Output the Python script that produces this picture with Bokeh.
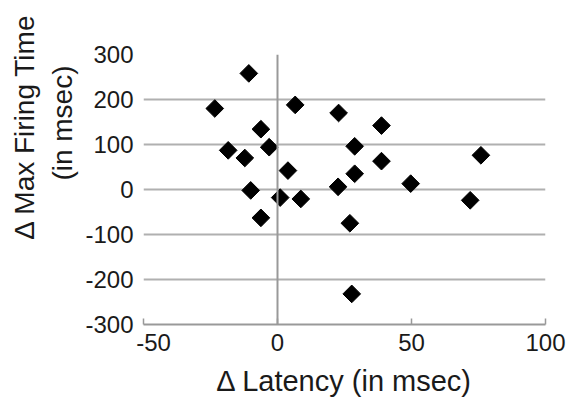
import math
from bokeh.plotting import figure
from bokeh.models import Range1d, FixedTicker, Span, Title
from bokeh.embed import file_html
from bokeh.resources import INLINE

# Data
latency = [-10.7, -23.4, 6.6, 22.8, 38.8, -6.2, -18.4, -3.1, -12.2, 28.8, 38.8,
           75.9, 3.9, 28.8, 49.7, -10.0, 22.6, 1.0, 8.7, 71.9, -6.2, 27.0, 27.7]
firing = [258, 180, 188, 170, 142, 134, 87, 94, 70, 96, 63,
          76, 42, 35, 13, -2, 6, -18, -21, -24, -63, -75, -232]
x_ticks = [-50, 0, 50, 100]
y_ticks = [-300, -200, -100, 0, 100, 200, 300]
x_title = "\u0394 Latency (in msec)"
y_title_1 = "\u0394 Max Firing Time"
y_title_2 = "(in msec)"

W, H = 569, 400

p = figure(width=W, height=H, output_backend="svg", toolbar_location=None,
           x_range=Range1d(-50, 100), y_range=Range1d(-300, 300),
           min_border_left=143, min_border_right=24, min_border_top=54, min_border_bottom=76)
p.outline_line_color = None
p.background_fill_color = "white"
p.border_fill_color = "white"

font = "Liberation Sans"
text_color = "#1a1a1a"
grid_color = "#b0b0b0"
axis_color = "#999999"

# grid
p.xgrid.visible = False
p.ygrid.ticker = FixedTicker(ticks=y_ticks)
p.ygrid.grid_line_color = grid_color
p.ygrid.grid_line_width = 2

# x axis (first label nudged right, as in the reference, to clear "-300")
x_labels = {t: str(t) for t in x_ticks}
x_labels[x_ticks[0]] = "\u00a0\u00a0\u00a0" + str(x_ticks[0])
p.xaxis.ticker = FixedTicker(ticks=x_ticks)
p.xaxis.major_label_overrides = x_labels
p.xaxis.axis_line_color = axis_color
p.xaxis.axis_line_width = 2
p.xaxis.major_tick_line_color = axis_color
p.xaxis.major_tick_line_width = 1.5
p.xaxis.major_tick_in = 6
p.xaxis.major_tick_out = 0
p.xaxis.minor_tick_line_color = None
p.xaxis.major_label_text_font = font
p.xaxis.major_label_text_font_size = "24px"
p.xaxis.major_label_text_color = text_color
p.xaxis.major_label_standoff = 4
p.xaxis.axis_label = x_title
p.xaxis.axis_label_text_font = font
p.xaxis.axis_label_text_font_size = "29px"
p.xaxis.axis_label_text_font_style = "normal"
p.xaxis.axis_label_text_color = text_color
p.xaxis.axis_label_standoff = 6

# y axis
p.yaxis.ticker = FixedTicker(ticks=y_ticks)
p.yaxis.major_label_overrides = {t: str(t) for t in y_ticks}
p.yaxis.axis_line_color = None
p.yaxis.major_tick_line_color = None
p.yaxis.minor_tick_line_color = None
p.yaxis.major_tick_in = 0
p.yaxis.major_tick_out = 0
p.yaxis.major_label_text_font = font
p.yaxis.major_label_text_font_size = "24px"
p.yaxis.major_label_text_color = text_color
p.yaxis.major_label_standoff = 10

# two-line y title as stacked left titles
p.add_layout(Title(text=y_title_2, align="right", offset=11, standoff=10,
                   text_font=font, text_font_size="28px", text_font_style="normal",
                   text_color=text_color), "left")
p.add_layout(Title(text=y_title_1, align="right", offset=-41, standoff=0,
                   text_font=font, text_font_size="28px", text_font_style="normal",
                   text_color=text_color), "left")

# vertical zero line
p.add_layout(Span(location=0, dimension="height", line_color=axis_color, line_width=2))

# points
p.scatter(latency, firing, marker="square", angle=math.pi / 4, size=12.5,
          fill_color="black", line_color="black")

open("out.html", "w").write(file_html(p, INLINE))
